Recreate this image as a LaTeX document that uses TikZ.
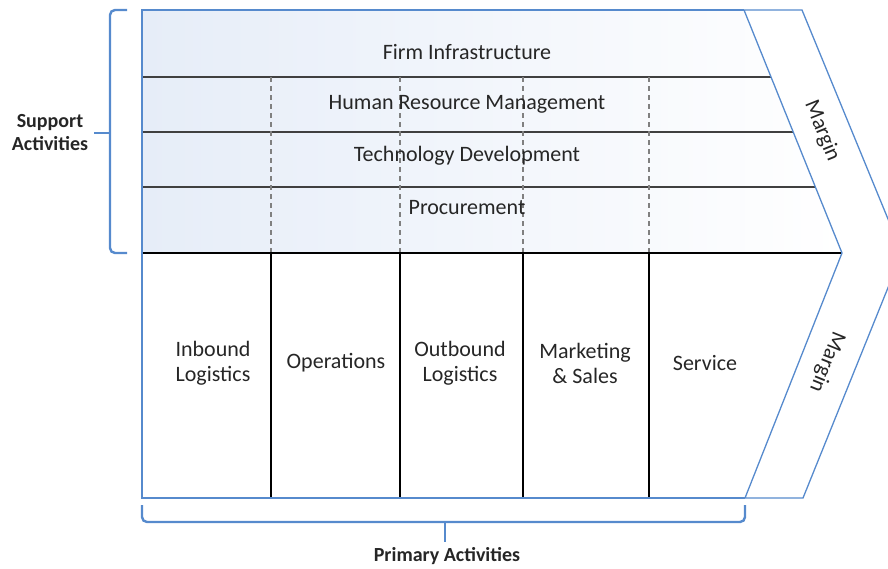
\documentclass[tikz,border=0pt]{standalone}
\usepackage{fontspec}
\setmainfont{Carlito}
\usetikzlibrary{positioning}

\definecolor{chainblue}{RGB}{86,138,205}
\definecolor{suppfill}{RGB}{230,237,248}
\definecolor{rowline}{RGB}{64,64,64}

\begin{document}
\begin{tikzpicture}[x=1pt, y=-1pt,
    outline/.style={draw=chainblue, line width=1.3pt, line join=miter},
    bracket/.style={draw=chainblue, line width=2.4pt, rounded corners=5pt},
    label/.style={draw=none, align=center, font=\fontsize{22}{25}\selectfont, text=black!85},
    side/.style={draw=none, align=center, font=\fontsize{20}{23}\selectfont\bfseries, text=black!85}]
    \useasboundingbox (0,0) rectangle (888,568);
    \clip (0,0) rectangle (888,568);

    % Support area
    \shade[left color=suppfill, right color=white] (142,10) -- (744,10) -- (842,253) -- (142,253) -- cycle;
    \foreach \y/\x in {77/771, 132/793, 187/815}
        \draw[rowline, line width=1.3pt] (142,\y) -- (\x,\y);
    \foreach \x in {271,400,523,649}
        \draw[gray, dash pattern=on 5pt off 4pt, line width=1.1pt] (\x,77) -- (\x,253);

    % Primary area
    \foreach \x in {271,400,523,649}
        \draw[black, line width=1.3pt] (\x,253) -- (\x,498);
    \draw[black, line width=2.4pt] (142,253) -- (842,253);

    % Outline and margin
    \draw[outline] (744,10) -- (142,10) -- (142,498) -- (745,498);
    \draw[outline] (744,10) -- (802,10) -- (902,253) -- (803,498) -- (745,498) -- (842,253) -- cycle;

    % Support activities
    \node[label] (firm) at (467,52) {Firm Infrastructure};
    \node[label] (hrm) at (467,104) {Human Resource Management};
    \node[label] (tech) at (467,156) {Technology Development};
    \node[label] (proc) at (467,208) {Procurement};

    % Primary activities
    \node[label] (inbound) at (213,363) {Inbound\\Logistics};
    \node[label] (ops) at (336,363) {Operations};
    \node[label] (outbound) at (460,363) {Outbound\\Logistics};
    \node[label] (market) at (585,363) {Marketing\\\& Sales};
    \node[label] (service) at (705,363) {Service};

    % Margin
    \node[label, rotate=-68] (margintop) at (822,131) {Margin};
    \node[label, rotate=-112] (marginbot) at (827,362) {Margin};

    % Brackets
    \draw[bracket] (127,10) -- (110,10) -- (110,253) -- (127,253);
    \draw[bracket] (110,133) -- (94,133);
    \node[side] (support) at (50,133) {Support\\Activities};

    \draw[bracket] (142,505) -- (142,522) -- (745,522) -- (745,505);
    \draw[bracket] (445,522) -- (445,542);
    \node[side] (primary) at (447,556) {Primary Activities};
\end{tikzpicture}
\end{document}
